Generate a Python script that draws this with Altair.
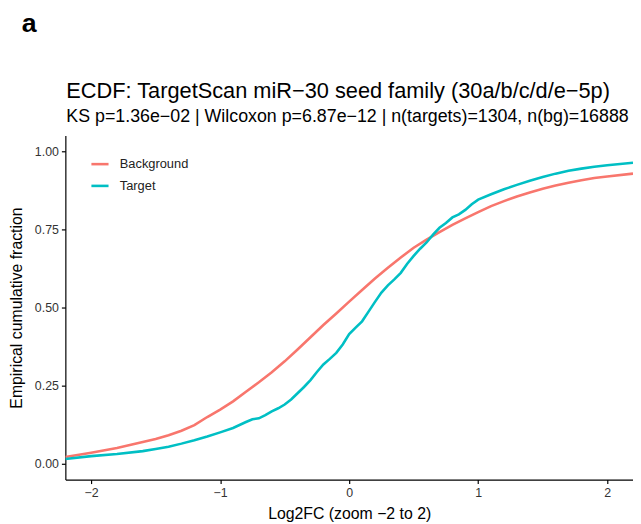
import altair as alt
import pandas as pd

bg_x = [-2.2, -2.0, -1.8, -1.6, -1.5, -1.4, -1.3, -1.2, -1.1, -1.0, -0.9, -0.8, -0.7, -0.6,
        -0.5, -0.4, -0.3, -0.2, -0.1, 0.0, 0.1, 0.2, 0.3, 0.4, 0.5, 0.6, 0.7, 0.8, 0.9,
        1.0, 1.1, 1.2, 1.3, 1.4, 1.5, 1.6, 1.7, 1.8, 1.9, 2.0, 2.2]
bg_f = [0.022, 0.036, 0.051, 0.070, 0.080, 0.092, 0.106, 0.124, 0.150, 0.174, 0.200, 0.231, 0.261, 0.293,
        0.328, 0.366, 0.405, 0.444, 0.481, 0.519, 0.556, 0.593, 0.627, 0.660, 0.691, 0.717, 0.741, 0.764, 0.785,
        0.805, 0.824, 0.840, 0.855, 0.868, 0.880, 0.890, 0.899, 0.907, 0.914, 0.919, 0.928]

tg_x = [-2.2, -2.0, -1.8, -1.6, -1.5, -1.4, -1.3, -1.2, -1.1, -1.0, -0.9, -0.8, -0.75, -0.7, -0.65,
        -0.6, -0.55, -0.5, -0.45, -0.4, -0.35, -0.3, -0.25, -0.2, -0.15, -0.1, -0.05, 0.0, 0.05,
        0.1, 0.15, 0.2, 0.25, 0.3, 0.35, 0.4, 0.45, 0.5, 0.55, 0.6, 0.65, 0.7, 0.75, 0.8, 0.85,
        0.9, 0.95, 1.0, 1.1, 1.2, 1.3, 1.4, 1.5, 1.6, 1.7, 1.8, 1.9, 2.0, 2.2]
tg_f = [0.016, 0.025, 0.032, 0.041, 0.048, 0.055, 0.065, 0.076, 0.088, 0.101, 0.115, 0.134, 0.143, 0.146, 0.156,
        0.168, 0.178, 0.190, 0.206, 0.226, 0.246, 0.268, 0.294, 0.318, 0.336, 0.355, 0.382, 0.415, 0.436,
        0.456, 0.487, 0.518, 0.548, 0.571, 0.590, 0.611, 0.640, 0.665, 0.688, 0.708, 0.733, 0.755, 0.770, 0.788, 0.798,
        0.812, 0.830, 0.845, 0.862, 0.878, 0.892, 0.905, 0.917, 0.928, 0.937, 0.944, 0.950, 0.955, 0.963]

groups = ["Background", "Target"]
colors = ["#F8766D", "#00BFC4"]

panel_label = ["a"]
title_text = ["ECDF: TargetScan miR\u221230 seed family (30a/b/c/d/e\u22125p)"]
subtitle_text = ["KS p=1.36e\u221202 | Wilcoxon p=6.87e\u221212 | n(targets)=1304, n(bg)=16888"]

df = pd.concat([
    pd.DataFrame({"x": bg_x, "f": bg_f, "group": groups[0], "o": range(len(bg_x))}),
    pd.DataFrame({"x": tg_x, "f": tg_f, "group": groups[1], "o": range(len(tg_x))}),
])

FONT = "Liberation Sans"

lines = alt.Chart(df).mark_line(strokeWidth=2.6, clip=True).encode(
    x=alt.X("x:Q", scale=alt.Scale(domain=[-2.2, 2.2], nice=False, zero=False),
            axis=alt.Axis(values=[-2, -1, 0, 1, 2], format="d", title="Log2FC (zoom \u22122 to 2)",
                          titlePadding=7)),
    y=alt.Y("f:Q", scale=alt.Scale(domain=[-0.05, 1.05], nice=False, zero=False),
            axis=alt.Axis(values=[0, 0.25, 0.5, 0.75, 1.0], format=".2f",
                          title="Empirical cumulative fraction", titlePadding=10)),
    color=alt.Color("group:N", scale=alt.Scale(domain=groups, range=colors),
                    legend=alt.Legend(title=None, orient="none", legendX=25, legendY=19,
                                      symbolType="stroke", symbolStrokeWidth=2.6, symbolSize=300,
                                      labelFontSize=13, labelFont=FONT, labelColor="#222",
                                      rowPadding=5, labelOffset=10)),
    order="o:Q",
)

def label(txt, x, y, size, weight="normal"):
    return alt.Chart(pd.DataFrame({"t": txt})).mark_text(
        align="left", baseline="alphabetic", fontSize=size, fontWeight=weight, font=FONT, color="black"
    ).encode(text="t:N", x=alt.value(x), y=alt.value(y))

panel = label(panel_label, -44, -105, 27, "bold")
title = label(title_text, 1, -38, 22)
subtitle = label(subtitle_text, 1, -14, 18)

chart = alt.layer(lines, panel, title, subtitle).properties(
    width=574, height=348,
    autosize=alt.AutoSizeParams(type="none"),
    padding={"left": 58, "top": 126, "right": 0, "bottom": 42},
).configure_view(stroke=None).configure_axis(
    grid=False, domainColor="black", domainWidth=1.2, tickColor="black", tickWidth=1.2, tickSize=4,
    labelFont=FONT, labelFontSize=12.5, labelColor="#333", titleFont=FONT, titleFontSize=16,
    titleFontWeight="normal", titleColor="black", labelPadding=3,
)

chart.save("out.html", embed_options={"renderer": "svg", "actions": False})
